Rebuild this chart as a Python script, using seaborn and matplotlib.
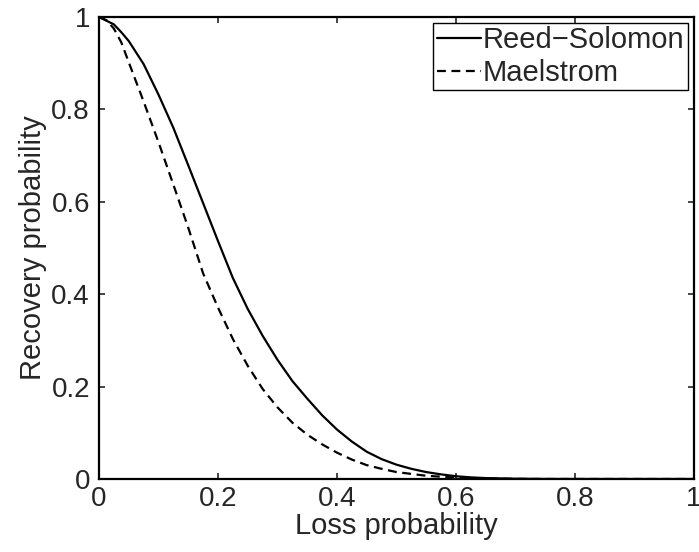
import numpy as np
import pandas as pd
import matplotlib
matplotlib.use('Agg')
import matplotlib.pyplot as plt
import seaborn as sns
from matplotlib.ticker import FuncFormatter

# values
loss = [0, 0.0125, 0.025, 0.0375, 0.05, 0.075, 0.1, 0.125, 0.15, 0.175, 0.2, 0.225,
        0.25, 0.275, 0.3, 0.325, 0.35, 0.375, 0.4, 0.425, 0.45, 0.475, 0.5, 0.525,
        0.55, 0.575, 0.6, 0.625, 0.65, 0.7, 0.75, 0.8, 0.9, 1.0]
reed_solomon = [1.0, 0.992, 0.984, 0.967, 0.948, 0.898, 0.832, 0.760, 0.679, 0.597,
                0.515, 0.435, 0.368, 0.310, 0.258, 0.212, 0.174, 0.138, 0.107, 0.081,
                0.059, 0.043, 0.031, 0.022, 0.015, 0.010, 0.006, 0.0035, 0.002, 0.0006,
                0.0001, 0.0, 0.0, 0.0]
maelstrom = [1.0, 0.993, 0.975, 0.945, 0.902, 0.817, 0.729, 0.637, 0.544, 0.445,
             0.371, 0.303, 0.245, 0.195, 0.155, 0.122, 0.096, 0.075, 0.057, 0.042,
             0.030, 0.022, 0.015, 0.011, 0.007, 0.005, 0.003, 0.0018, 0.001, 0.0002,
             0.0, 0.0, 0.0, 0.0]
labels = ['Reed\u2212Solomon', 'Maelstrom']

sns.set_style('ticks')
plt.rcParams['font.family'] = ['Liberation Sans', 'DejaVu Sans']

fig = plt.figure(figsize=(6.99, 5.52), dpi=100)
ax = fig.add_axes([99/699, 1 - 479/552, 595/699, 462/552])

sns.lineplot(x=loss, y=reed_solomon, color='k', lw=1.6, ax=ax, label=labels[0])
sns.lineplot(x=loss, y=maelstrom, color='k', lw=1.6, ax=ax, label=labels[1],
             linestyle=(0, (4, 2.5)))

ax.set_xlim(0, 1)
ax.set_ylim(0, 1)
ticks = [0, 0.2, 0.4, 0.6, 0.8, 1]
ax.set_xticks(ticks)
ax.set_yticks(ticks)
fmt = FuncFormatter(lambda v, p: '%g' % round(v, 1))
ax.xaxis.set_major_formatter(fmt)
ax.yaxis.set_major_formatter(fmt)
ax.tick_params(direction='in', length=4.5, width=1.2, top=True, right=True,
               labelsize=20)
ax.tick_params(axis='x', pad=5)
ax.tick_params(axis='y', pad=6.5)
for s in ax.spines.values():
    s.set_linewidth(1.6)
    s.set_color('k')
ax.set_xlabel('Loss probability', fontsize=21, labelpad=0)
ax.set_ylabel('Recovery probability', fontsize=21, labelpad=3)

leg = ax.legend(loc='upper right', fontsize=21, frameon=True, fancybox=False,
                handlelength=1.5, handletextpad=0.08, borderpad=0.12,
                labelspacing=0.15, borderaxespad=0.2)
leg.get_frame().set_edgecolor('k')
leg.get_frame().set_linewidth(1.0)
leg.get_frame().set_alpha(1)

fig.savefig('out.png', dpi=100)
